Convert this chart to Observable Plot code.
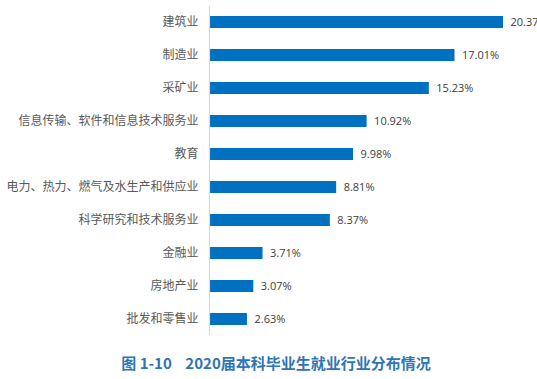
<!DOCTYPE html>
<html>
<head>
<meta charset="utf-8">
<script src="https://cdn.jsdelivr.net/npm/d3@7"></script>
<script src="https://cdn.jsdelivr.net/npm/@observablehq/plot@0.6"></script>
<style>
  body { margin: 0; background: #fff; }
  #chart svg { display: block; }
  #title { font-family: "Noto Sans CJK SC", sans-serif; font-weight: bold; font-size: 15px; color: #2E75B6; text-align: center; margin-top: 12px; line-height: 18px; padding-left: 15px; white-space: pre; }
</style>
</head>
<body>
<div id="chart"></div>
<div id="title">图 1-10    2020届本科毕业生就业行业分布情况</div>
<script>
const industries = ["建筑业", "制造业", "采矿业", "信息传输、软件和信息技术服务业", "教育", "电力、热力、燃气及水生产和供应业", "科学研究和技术服务业", "金融业", "房地产业", "批发和零售业"];
const shares = [20.37, 17.01, 15.23, 10.92, 9.98, 8.81, 8.37, 3.71, 3.07, 2.63];
const data = industries.map((name, i) => ({name, value: shares[i]}));

const chart = Plot.plot({
  width: 537,
  height: 342,
  marginLeft: 209,
  marginRight: 34,
  marginTop: 6,
  marginBottom: 7,
  style: {fontFamily: "Noto Sans CJK SC", background: "#fff"},
  x: {domain: [0, 20.37], axis: null},
  y: {domain: industries, paddingInner: 0.636, paddingOuter: 0.3, label: null, axis: null},
  marks: [
    Plot.barX(data, {x: "value", y: "name", fill: "#0070C0"}),
    Plot.ruleX([0], {stroke: "#d9d9d9", strokeWidth: 1.2}),
    Plot.text(data, {x: "value", y: "name", text: d => d.value.toFixed(2) + "%", dx: 7, textAnchor: "start", fill: "#404040", fontSize: 11, fontFamily: "Open Sans"}),
    Plot.axisY({tickSize: 0, tickPadding: 11, fontSize: 12, color: "#595959", label: null})
  ]
});
document.getElementById("chart").appendChild(chart);
</script>
</body>
</html>
